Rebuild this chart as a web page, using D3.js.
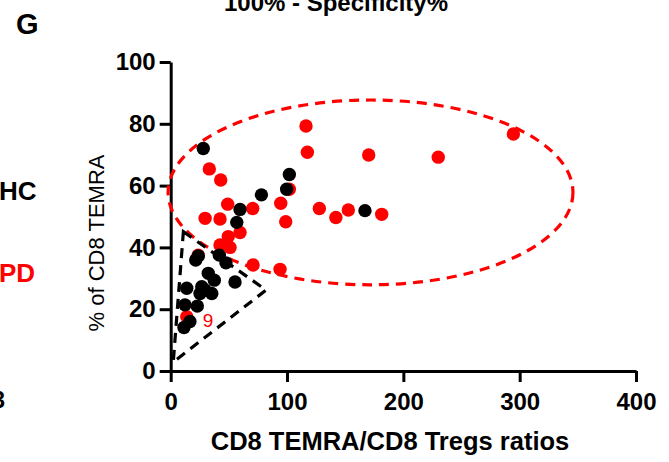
<!DOCTYPE html>
<html>
<head>
<meta charset="utf-8">
<script src="https://cdn.jsdelivr.net/npm/d3@7"></script>
<style>
  body { margin: 0; background: #fff; }
  svg { display: block; font-family: "Liberation Sans", Arial, sans-serif; }
</style>
</head>
<body>
<div id="app"></div>
<script>
// HC (black) points: [ratio, % of CD8 TEMRA]
const hcRatio = [28, 102, 99.7, 78, 167, 59.6, 56.8, 23.7, 21.5, 41.8, 47.5, 32.3, 37.5, 55.3, 26.7, 29.5, 35.3, 25.2, 13.8, 12.3, 22.9, 16.5, 11.4];
const hcTemra = [72, 63.6, 58.8, 57, 51.9, 52.3, 48.1, 37.2, 35.9, 37.5, 35, 31.6, 29.4, 28.8, 27.3, 26.2, 25.1, 25.1, 26.8, 21.4, 21, 16, 14.1];

// PD (red) points
const pdRatio = [116.3, 117.5, 170.2, 230, 294.6, 33.2, 43, 102, 94.6, 98.9, 70.5, 127.8, 142, 152.7, 181.4, 49, 29.6, 42.4, 59.6, 49.5, 42.4, 51, 23.7, 70.8, 94, 13.8];
const pdTemra = [79.3, 70.8, 69.9, 69.2, 76.7, 65.4, 61.8, 58.8, 54.3, 48.3, 52.6, 52.6, 49.7, 52.1, 50.7, 54, 49.4, 49.2, 44.8, 43.5, 40.8, 40, 37.5, 34.3, 32.9, 17.6];

const xTicks = [0, 100, 200, 300, 400];
const yTicks = [0, 20, 40, 60, 80, 100];

// annotation shapes (data units)
const triangle = [[10.9, 45.1], [82, 26.2], [2.2, 2.9]];
const ellipse = { cx: 171.8, cy: 57.8, rx: 174, ry: 29.9 };

const width = 669;
const height = 462;
const font = '"Liberation Sans", Arial, sans-serif';

const svg = d3.select('#app').append('svg')
  .attr('width', width)
  .attr('height', height);

const x = d3.scaleLinear().domain([0, 400]).range([170.7, 636]);
const y = d3.scaleLinear().domain([0, 100]).range([371, 62]);

// panel letter + cut-off title
svg.append('text')
  .attr('x', 16).attr('y', 34)
  .attr('font-size', 29).attr('font-weight', 'bold')
  .text('G');

svg.append('text')
  .attr('x', 336).attr('y', 11)
  .attr('text-anchor', 'middle')
  .attr('font-size', 24).attr('font-weight', 'bold')
  .text('100% - Specificity%');

// legend-ish labels on the left
svg.append('text')
  .attr('x', -1).attr('y', 200)
  .attr('font-size', 26).attr('font-weight', 'bold')
  .attr('fill', '#000')
  .text('HC');
svg.append('text')
  .attr('x', -1).attr('y', 282)
  .attr('font-size', 26).attr('font-weight', 'bold')
  .attr('fill', '#ff0000')
  .text('PD');
svg.append('text')
  .attr('x', 5).attr('y', 408)
  .attr('text-anchor', 'end')
  .attr('font-size', 23).attr('font-weight', 'bold')
  .text('3');

// axes
const xAxis = svg.append('g')
  .attr('transform', `translate(0,${y(0)})`)
  .call(d3.axisBottom(x).tickValues(xTicks).tickSize(11).tickPadding(11).tickSizeOuter(0));
const yAxis = svg.append('g')
  .attr('transform', `translate(${x(0)},0)`)
  .call(d3.axisLeft(y).tickValues(yTicks).tickSize(11).tickPadding(4).tickSizeOuter(0));

[xAxis, yAxis].forEach(a => {
  a.select('.domain').attr('stroke', '#000').attr('stroke-width', 3);
  a.selectAll('.tick line').attr('stroke', '#000').attr('stroke-width', 3);
  a.selectAll('.tick text')
    .attr('fill', '#000')
    .attr('font-family', font)
    .attr('font-size', 24)
    .attr('font-weight', 'bold');
});

// axis titles
svg.append('text')
  .attr('x', 390).attr('y', 450)
  .attr('text-anchor', 'middle')
  .attr('font-size', 25.5).attr('font-weight', 'bold')
  .text('CD8 TEMRA/CD8 Tregs ratios');

svg.append('text')
  .attr('transform', `translate(104,243) rotate(-90)`)
  .attr('text-anchor', 'middle')
  .attr('font-size', 22)
  .text('% of CD8 TEMRA');

// dashed annotations
svg.append('ellipse')
  .attr('cx', x(ellipse.cx)).attr('cy', y(ellipse.cy))
  .attr('rx', x(ellipse.rx) - x(0)).attr('ry', y(0) - y(ellipse.ry))
  .attr('fill', 'none')
  .attr('stroke', '#ff0000')
  .attr('stroke-width', 3.2)
  .attr('stroke-dasharray', '10,7');

svg.append('path')
  .attr('d', d3.line().x(d => x(d[0])).y(d => y(d[1]))(triangle) + 'Z')
  .attr('fill', 'none')
  .attr('stroke', '#000')
  .attr('stroke-width', 3.2)
  .attr('stroke-dasharray', '10,7');

// points: PD first, HC on top
const pd = d3.zip(pdRatio, pdTemra);
const hc = d3.zip(hcRatio, hcTemra);

svg.append('g').selectAll('circle')
  .data(pd).enter().append('circle')
  .attr('cx', d => x(d[0])).attr('cy', d => y(d[1]))
  .attr('r', 6.7)
  .attr('fill', '#ff0000');

svg.append('g').selectAll('circle')
  .data(hc).enter().append('circle')
  .attr('cx', d => x(d[0])).attr('cy', d => y(d[1]))
  .attr('r', 6.7)
  .attr('fill', '#000');

// red "9" label
svg.append('text')
  .attr('x', x(32.2)).attr('y', y(14.2))
  .attr('text-anchor', 'middle')
  .attr('font-size', 19)
  .attr('fill', '#ff0000')
  .text('9');
</script>
</body>
</html>
